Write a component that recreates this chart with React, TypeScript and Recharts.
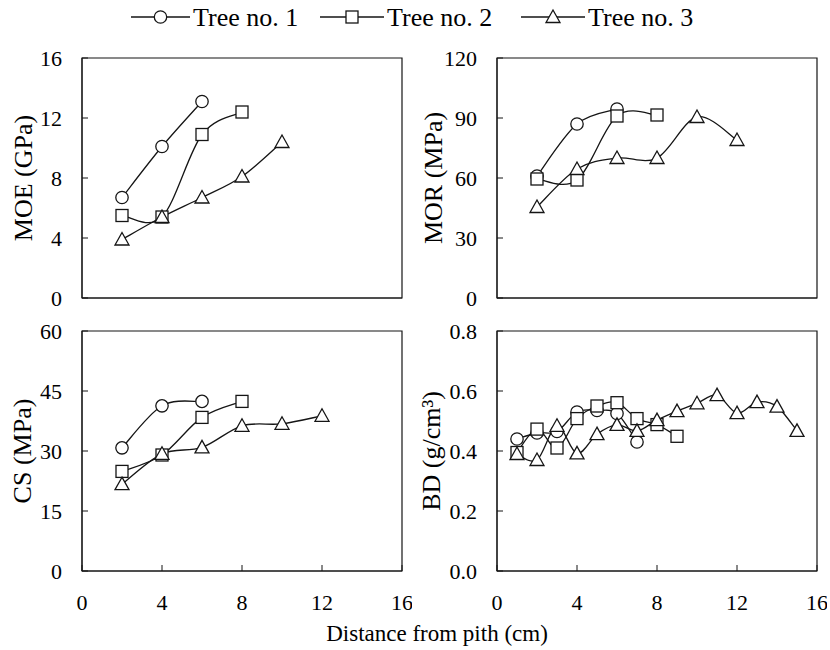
import { Line, LineChart, ReferenceArea, XAxis, YAxis } from "recharts";

const FONT = '"Liberation Serif", "Times New Roman", serif';
const INK = "#151515";

const treeNames = ["Tree no. 1", "Tree no. 2", "Tree no. 3"];
const distanceTicks = [0, 4, 8, 12, 16];

// MOE, MOR and CS were sampled every 2 cm from the pith
const evenDistance = [2, 4, 6, 8, 10, 12];

const moeTree1 = [6.7, 10.1, 13.1];
const moeTree2 = [5.5, 5.4, 10.9, 12.4];
const moeTree3 = [3.9, 5.4, 6.7, 8.1, 10.4];
const moeTicks = [0, 4, 8, 12, 16];

const morTree1 = [61, 87, 94.5];
const morTree2 = [59.5, 59, 91, 91.5];
const morTree3 = [45.5, 64.5, 70, 70, 90.5, 79];
const morTicks = [0, 30, 60, 90, 120];

const csTree1 = [30.8, 41.3, 42.4];
const csTree2 = [24.9, 29, 38.4, 42.4];
const csTree3 = [21.7, 29.3, 30.9, 36.3, 36.8, 38.8];
const csTicks = [0, 15, 30, 45, 60];

// BD was sampled every 1 cm
const bdDistance = [1, 2, 3, 4, 5, 6, 7, 8, 9, 10, 11, 12, 13, 14, 15];
const bdTree1 = [0.44, 0.46, 0.465, 0.53, 0.535, 0.525, 0.43];
const bdTree2 = [0.395, 0.473, 0.41, 0.508, 0.55, 0.561, 0.508, 0.488, 0.449];
const bdTree3 = [
  0.39, 0.37, 0.484, 0.392, 0.456, 0.487, 0.467, 0.503, 0.533, 0.559, 0.586,
  0.526, 0.563, 0.548, 0.467,
];
const bdTicks = [0, 0.2, 0.4, 0.6, 0.8];

type Shape = "circle" | "square" | "triangle";
const shapes: Shape[] = ["circle", "square", "triangle"];

const toRows = (xs: number[], ys: number[]) => ys.map((y, i) => ({ x: xs[i], y }));

// Excel-style smoothed line (cardinal spline, control points at 1/6 of neighbour span)
const excelCurve: any = (context: any) => {
  let pts: number[][] = [];
  return {
    areaStart() {},
    areaEnd() {},
    lineStart() {
      pts = [];
    },
    point(x: number, y: number) {
      pts.push([+x, +y]);
    },
    lineEnd() {
      const n = pts.length;
      if (!n) return;
      context.moveTo(pts[0][0], pts[0][1]);
      for (let i = 0; i < n - 1; i++) {
        const p0 = pts[i > 0 ? i - 1 : i];
        const p1 = pts[i];
        const p2 = pts[i + 1];
        const p3 = pts[i + 2 < n ? i + 2 : i + 1];
        context.bezierCurveTo(
          p1[0] + (p2[0] - p0[0]) / 6,
          p1[1] + (p2[1] - p0[1]) / 6,
          p2[0] - (p3[0] - p1[0]) / 6,
          p2[1] - (p3[1] - p1[1]) / 6,
          p2[0],
          p2[1]
        );
      }
    },
  };
};

function Marker({ shape, cx, cy }: { shape: Shape; cx: number; cy: number }) {
  const common = { fill: "#fff", stroke: INK, strokeWidth: 1.3 };
  if (shape === "circle") return <circle cx={cx} cy={cy} r={6.2} {...common} />;
  if (shape === "square")
    return <rect x={cx - 6} y={cy - 6} width={12} height={12} {...common} />;
  return (
    <polygon
      points={`${cx},${cy - 7} ${cx - 7},${cy + 5.5} ${cx + 7},${cy + 5.5}`}
      {...common}
    />
  );
}

const dotFor = (shape: Shape) => (props: any) => {
  const { cx, cy, index } = props;
  if (cx == null || cy == null) return <g key={index} />;
  return (
    <g key={index}>
      <Marker shape={shape} cx={cx} cy={cy} />
    </g>
  );
};

interface PanelProps {
  left: number;
  plotTop: number;
  title: string;
  titleX: number;
  yTicks: number[];
  decimals?: number;
  series: { x: number; y: number }[][];
  showXLabels: boolean;
}

function Panel({ left, plotTop, title, titleX, yTicks, decimals = 0, series, showXLabels }: PanelProps) {
  const yMin = yTicks[0];
  const yMax = yTicks[yTicks.length - 1];
  const xAxisHeight = showXLabels ? 48 : 20;
  const tickStyle = { fontSize: 22, fill: "#000", fontFamily: FONT };

  return (
    <div style={{ position: "absolute", left, top: plotTop - 20 }}>
      <LineChart
        width={412}
        height={20 + 240 + xAxisHeight}
        margin={{ top: 20, right: 10, bottom: 0, left: 0 }}
      >
        <XAxis
          type="number"
          dataKey="x"
          domain={[0, 16]}
          ticks={distanceTicks}
          interval={0}
          tickSize={-6}
          tickMargin={29}
          height={xAxisHeight}
          stroke={INK}
          tick={showXLabels ? tickStyle : false}
          tickLine={{ stroke: INK }}
        />
        <YAxis
          type="number"
          domain={[yMin, yMax]}
          ticks={yTicks}
          interval={0}
          width={82}
          tickSize={-6}
          tickMargin={26}
          stroke={INK}
          tick={tickStyle}
          tickLine={{ stroke: INK }}
          tickFormatter={(v: number) => v.toFixed(decimals)}
          label={(props: any) => {
            const vb = props.viewBox ?? { y: 20, height: 240 };
            const cy = vb.y + vb.height / 2;
            return (
              <text
                x={titleX}
                y={cy}
                transform={`rotate(-90 ${titleX} ${cy})`}
                textAnchor="middle"
                dominantBaseline="central"
                fontSize={26}
                fontFamily={FONT}
                fill="#000"
              >
                {title}
              </text>
            );
          }}
        />
        <ReferenceArea x1={0} x2={16} y1={yMin} y2={yMax} fill="none" stroke={INK} strokeWidth={1.2} />
        {series.map((rows, i) => (
          <Line
            key={treeNames[i]}
            data={rows}
            dataKey="y"
            name={treeNames[i]}
            type={excelCurve}
            stroke={INK}
            strokeWidth={1.3}
            dot={dotFor(shapes[i])}
            activeDot={false}
            isAnimationActive={false}
          />
        ))}
      </LineChart>
    </div>
  );
}

function LegendRow() {
  const items = [
    { x0: 131, x1: 190, text: 193 },
    { x0: 320, x1: 384, text: 387 },
    { x0: 521, x1: 585, text: 588 },
  ];
  return (
    <svg width={830} height={38} style={{ position: "absolute", left: 0, top: 0 }}>
      {items.map((it, i) => (
        <g key={treeNames[i]}>
          <line x1={it.x0} x2={it.x1} y1={17} y2={17} stroke={INK} strokeWidth={1.3} />
          <Marker shape={shapes[i]} cx={(it.x0 + it.x1) / 2} cy={17} />
          <text x={it.text} y={26} fontSize={26} fontFamily={FONT} fill="#000">
            {treeNames[i]}
          </text>
        </g>
      ))}
    </svg>
  );
}

export default function App() {
  return (
    <div
      style={{
        position: "absolute",
        left: 0,
        top: 0,
        width: 830,
        height: 650,
        background: "#fff",
        fontFamily: FONT,
      }}
    >
      <LegendRow />
      <Panel
        left={0}
        plotTop={58}
        title="MOE (GPa)"
        titleX={23}
        yTicks={moeTicks}
        series={[
          toRows(evenDistance, moeTree1),
          toRows(evenDistance, moeTree2),
          toRows(evenDistance, moeTree3),
        ]}
        showXLabels={false}
      />
      <Panel
        left={415}
        plotTop={58}
        title="MOR (MPa)"
        titleX={18}
        yTicks={morTicks}
        series={[
          toRows(evenDistance, morTree1),
          toRows(evenDistance, morTree2),
          toRows(evenDistance, morTree3),
        ]}
        showXLabels={false}
      />
      <Panel
        left={0}
        plotTop={331}
        title="CS (MPa)"
        titleX={22}
        yTicks={csTicks}
        series={[
          toRows(evenDistance, csTree1),
          toRows(evenDistance, csTree2),
          toRows(evenDistance, csTree3),
        ]}
        showXLabels
      />
      <Panel
        left={415}
        plotTop={331}
        title="BD (g/cm³)"
        titleX={16}
        yTicks={bdTicks}
        decimals={1}
        series={[
          toRows(bdDistance, bdTree1),
          toRows(bdDistance, bdTree2),
          toRows(bdDistance, bdTree3),
        ]}
        showXLabels
      />
      <div
        style={{
          position: "absolute",
          left: 0,
          width: 830,
          top: 621,
          textAlign: "center",
          fontSize: 23,
          paddingLeft: 44,
          boxSizing: "border-box",
          whiteSpace: "nowrap",
        }}
      >
        Distance from pith (cm)
      </div>
    </div>
  );
}
